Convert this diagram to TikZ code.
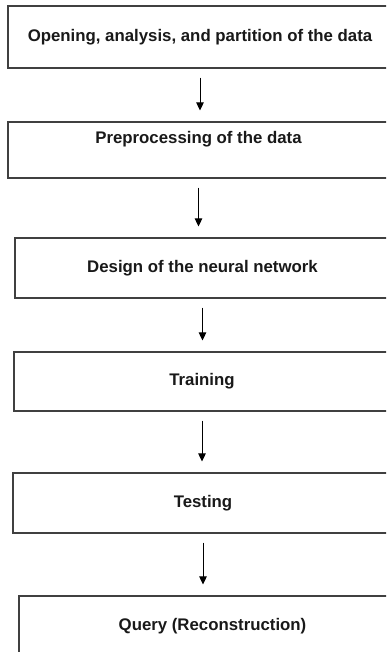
\documentclass[tikz,border=0pt]{standalone}
\usepackage{fontspec}
\setmainfont{Liberation Sans}
\usepackage{tikz}
\usetikzlibrary{positioning}
\usetikzlibrary{arrows.meta}
\tikzstyle{stepbox} = [rectangle, minimum height=60pt, text centered, draw=black!75, line width=1.1pt, fill=white, text=black!90, font=\fontsize{16.8}{19}\selectfont\bfseries, inner sep=0pt]
\tikzstyle{arrow} = [line width=0.8pt, -{Triangle[length=8pt,width=7.5pt]}, shorten <=9pt, shorten >=11pt]

\begin{document}
\begin{tikzpicture}[x=1pt, y=1pt, node distance=118pt]

	\useasboundingbox (0,0) rectangle (386,-652);
	\clip (0,0) rectangle (386,-652);

	\node (opening) [stepbox, minimum width=384pt, minimum height=62pt] at (200,-37) {Opening, analysis, and partition of the data};

	\node (preproc) [stepbox, below of=opening, yshift=5pt, xshift=-1.5pt, minimum width=381pt, minimum height=56pt, text height=12pt, text depth=25pt] {Preprocessing of the data};

	\node (design) [stepbox, below of=preproc, xshift=4pt, minimum width=375pt] {Design of the neural network};

	\node (training) [stepbox, below of=design, yshift=4.5pt, xshift=-0.5pt, minimum width=376pt, minimum height=59pt] {Training};

	\node (testing) [stepbox, below of=training, yshift=-3.5pt, xshift=1pt, minimum width=380pt] {Testing};

	\node (query) [stepbox, below of=testing, yshift=-5pt, xshift=9.5pt, minimum width=387pt] {Query (Reconstruction)};

	\draw [arrow] (opening.south) -- (opening.south |- preproc.north);
	\draw [arrow] (preproc.south) -- (preproc.south |- design.north);
	\draw [arrow] (design.south) -- (design.south |- training.north);
	\draw [arrow] (training.south) -- (training.south |- testing.north);
	\draw [arrow] (testing.south) -- (testing.south |- query.north);

\end{tikzpicture}
\end{document}
